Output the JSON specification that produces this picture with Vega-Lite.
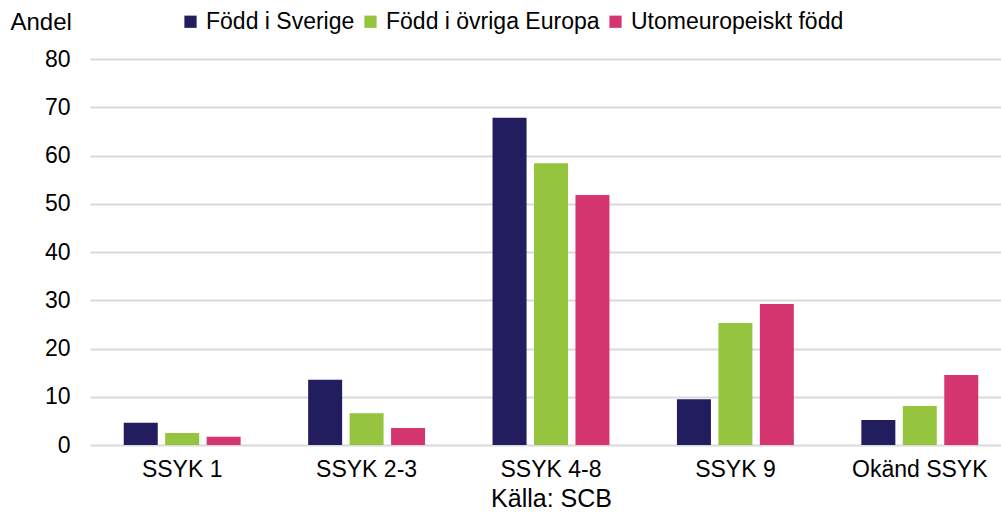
{
  "$schema": "https://vega.github.io/schema/vega-lite/v6.json",
  "width": 922,
  "height": 386,
  "autosize": {"type": "none"},
  "padding": {"left": 90, "top": 59, "right": 0, "bottom": 73},
  "background": "white",
  "config": {
    "view": {"stroke": null},
    "font": "Liberation Sans",
    "axis": {"labelFont": "Liberation Sans", "titleFont": "Liberation Sans"}
  },
  "data": {
    "values": [
      {"kat": "SSYK 1", "grupp": "Född i Sverige", "andel": 4.6},
      {"kat": "SSYK 1", "grupp": "Född i övriga Europa", "andel": 2.5},
      {"kat": "SSYK 1", "grupp": "Utomeuropeiskt född", "andel": 1.7},
      {"kat": "SSYK 2-3", "grupp": "Född i Sverige", "andel": 13.5},
      {"kat": "SSYK 2-3", "grupp": "Född i övriga Europa", "andel": 6.6},
      {"kat": "SSYK 2-3", "grupp": "Utomeuropeiskt född", "andel": 3.5},
      {"kat": "SSYK 4-8", "grupp": "Född i Sverige", "andel": 67.8},
      {"kat": "SSYK 4-8", "grupp": "Född i övriga Europa", "andel": 58.4},
      {"kat": "SSYK 4-8", "grupp": "Utomeuropeiskt född", "andel": 51.8},
      {"kat": "SSYK 9", "grupp": "Född i Sverige", "andel": 9.5},
      {"kat": "SSYK 9", "grupp": "Född i övriga Europa", "andel": 25.3},
      {"kat": "SSYK 9", "grupp": "Utomeuropeiskt född", "andel": 29.2},
      {"kat": "Okänd SSYK", "grupp": "Född i Sverige", "andel": 5.2},
      {"kat": "Okänd SSYK", "grupp": "Född i övriga Europa", "andel": 8.1},
      {"kat": "Okänd SSYK", "grupp": "Utomeuropeiskt född", "andel": 14.5}
    ]
  },
  "mark": {"type": "bar"},
  "encoding": {
    "x": {
      "field": "kat",
      "type": "nominal",
      "sort": null,
      "scale": {"paddingInner": 0.366, "paddingOuter": 0.183},
      "axis": {
        "title": "Källa: SCB",
        "titleFontSize": 25,
        "titleFontWeight": "normal",
        "titleColor": "#000000",
        "titlePadding": 5,
        "labelAngle": 0,
        "labelFontSize": 23,
        "labelColor": "#000000",
        "labelPadding": 13,
        "ticks": false,
        "domain": false
      }
    },
    "xOffset": {
      "field": "grupp",
      "type": "nominal",
      "sort": ["Född i Sverige", "Född i övriga Europa", "Utomeuropeiskt född"],
      "scale": {"paddingInner": 0.18, "paddingOuter": 0}
    },
    "y": {
      "field": "andel",
      "type": "quantitative",
      "scale": {"domain": [0, 80]},
      "axis": {
        "values": [0, 10, 20, 30, 40, 50, 60, 70, 80],
        "title": "Andel",
        "titleAngle": 0,
        "titleAlign": "left",
        "titleBaseline": "middle",
        "titleX": -80,
        "titleY": -37,
        "titleFontSize": 24,
        "titleFontWeight": "normal",
        "titleColor": "#000000",
        "labelFontSize": 23,
        "labelColor": "#000000",
        "labelPadding": 20,
        "ticks": false,
        "domain": false,
        "grid": true,
        "gridColor": "#d9d9d9",
        "gridWidth": 2
      }
    },
    "color": {
      "field": "grupp",
      "type": "nominal",
      "sort": ["Född i Sverige", "Född i övriga Europa", "Utomeuropeiskt född"],
      "scale": {
        "domain": ["Född i Sverige", "Född i övriga Europa", "Utomeuropeiskt född"],
        "range": ["#221d5e", "#95c43f", "#d6366f"]
      },
      "legend": {
        "title": null,
        "orient": "none",
        "direction": "horizontal",
        "legendX": 89,
        "legendY": -49,
        "symbolType": "square",
        "symbolSize": 150,
        "symbolStrokeWidth": 0,
        "labelFontSize": 23,
        "labelLimit": 400,
        "labelColor": "#000000",
        "labelOffset": 4,
        "columnPadding": 4
      }
    }
  }
}
